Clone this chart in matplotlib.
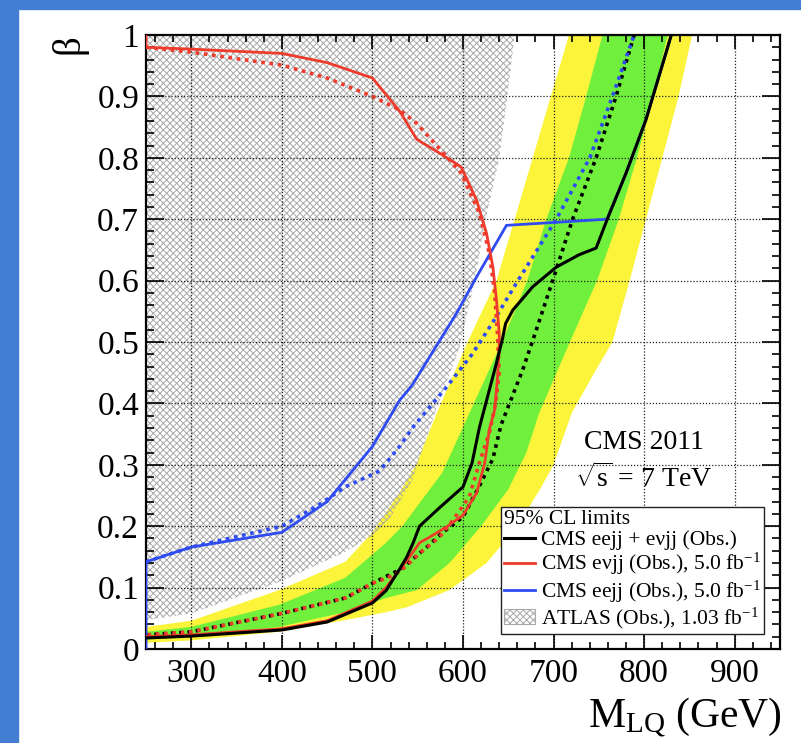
import matplotlib
matplotlib.use("Agg")
import matplotlib.pyplot as plt
import matplotlib.patches as mpatches
from matplotlib.ticker import MultipleLocator, FixedLocator, FixedFormatter

plt.rcParams['font.family'] = ['Liberation Serif', 'DejaVu Serif']
plt.rcParams['mathtext.fontset'] = 'custom'
plt.rcParams['mathtext.rm'] = 'Liberation Serif'
plt.rcParams['mathtext.it'] = 'Liberation Serif:italic'
plt.rcParams['hatch.linewidth'] = 0.7

# ---- data (M_LQ in GeV, beta) ----
# ATLAS excluded region boundary
atlas_x = [250, 300, 397, 470, 500, 520, 544, 569, 596, 613, 625, 640, 649, 657]
atlas_y = [0.047, 0.058, 0.109, 0.158, 0.185, 0.215, 0.275, 0.384, 0.49, 0.60, 0.70, 0.80, 0.90, 1.0]

# +-2 sigma band (combined expected)
ylw_left_x = [250, 300, 397, 470, 500, 530, 548, 571, 605, 637, 657, 677, 697, 717]
ylw_left_y = [0.036, 0.046, 0.096, 0.142, 0.19, 0.255, 0.30, 0.384, 0.5, 0.6, 0.7, 0.8, 0.9, 1.0]
ylw_right_x = [250, 300, 397, 470, 515, 538, 585, 626, 660, 685, 700, 720, 745, 765, 784, 802, 820, 838, 853]
ylw_right_y = [0.010, 0.014, 0.028, 0.047, 0.060, 0.068, 0.096, 0.14, 0.2, 0.26, 0.3, 0.384, 0.45, 0.5, 0.6, 0.7, 0.8, 0.9, 1.0]

# +-1 sigma band
grn_left_x = [250, 300, 397, 470, 515, 533, 577, 607, 643, 671, 692, 717, 736, 754]
grn_left_y = [0.028, 0.036, 0.072, 0.116, 0.173, 0.2, 0.287, 0.384, 0.5, 0.6, 0.7, 0.8, 0.9, 1.0]
grn_right_x = [250, 300, 397, 470, 515, 549, 585, 620, 650, 670, 684, 718, 748, 772, 792, 810, 826]
grn_right_y = [0.015, 0.020, 0.036, 0.060, 0.083, 0.096, 0.14, 0.2, 0.26, 0.32, 0.384, 0.5, 0.6, 0.7, 0.8, 0.9, 1.0]

# combined eejj + evjj
comb_obs_x = [250, 300, 400, 450, 500, 515, 530, 538, 545, 552, 574, 600, 610, 618, 637, 644, 647, 655, 677, 703, 728, 747, 759, 780, 802, 830]
comb_obs_y = [0.018, 0.021, 0.031, 0.044, 0.075, 0.095, 0.13, 0.15, 0.173, 0.2, 0.23, 0.264, 0.303, 0.36, 0.466, 0.508, 0.53, 0.552, 0.59, 0.622, 0.642, 0.653, 0.699, 0.775, 0.862, 1.0]
comb_exp_x = [250, 300, 400, 470, 500, 515, 530, 541, 560, 577, 600, 618, 633, 642, 666, 681, 699, 721, 747, 769, 789]
comb_exp_y = [0.023, 0.028, 0.058, 0.083, 0.107, 0.118, 0.129, 0.142, 0.166, 0.189, 0.215, 0.265, 0.31, 0.365, 0.455, 0.52, 0.60, 0.70, 0.80, 0.90, 1.0]

# evjj
enu_obs_x = [250, 250, 300, 400, 450, 500, 530, 549, 577, 598, 615, 626, 633, 637, 640, 640, 638, 635, 629, 624, 615, 600, 582, 563, 552, 541, 530, 515, 500, 450, 400, 300, 250]
enu_obs_y = [1.0, 0.98, 0.977, 0.97, 0.955, 0.93, 0.876, 0.83, 0.805, 0.785, 0.731, 0.677, 0.622, 0.568, 0.514, 0.49, 0.44, 0.39, 0.357, 0.303, 0.254, 0.218, 0.199, 0.182, 0.173, 0.15, 0.129, 0.1, 0.078, 0.046, 0.033, 0.023, 0.02]
enu_exp_x = [250, 300, 400, 450, 500, 530, 549, 577, 598, 618, 629, 635, 638, 640, 636, 630, 618, 607, 589, 574, 552, 541, 530, 515, 500, 470, 400, 300, 250]
enu_exp_y = [0.98, 0.972, 0.951, 0.93, 0.9, 0.878, 0.856, 0.81, 0.775, 0.71, 0.645, 0.58, 0.514, 0.45, 0.40, 0.357, 0.303, 0.248, 0.21, 0.182, 0.156, 0.14, 0.126, 0.115, 0.107, 0.083, 0.058, 0.028, 0.023]

# eejj
ee_obs_x = [250, 250, 300, 400, 450, 500, 530, 544, 593, 615, 648, 759, 780, 802, 830]
ee_obs_y = [0.0, 0.142, 0.166, 0.19, 0.24, 0.33, 0.405, 0.43, 0.547, 0.606, 0.69, 0.70, 0.775, 0.862, 1.0]
ee_exp_x = [250, 300, 400, 441, 470, 508, 530, 544, 582, 610, 632, 659, 703, 740, 765, 789]
ee_exp_y = [0.142, 0.166, 0.2, 0.235, 0.264, 0.29, 0.33, 0.36, 0.427, 0.48, 0.53, 0.596, 0.70, 0.80, 0.90, 1.0]

x_ticks = [300, 400, 500, 600, 700, 800, 900]
y_ticks = [0, 0.1, 0.2, 0.3, 0.4, 0.5, 0.6, 0.7, 0.8, 0.9, 1.0]
y_labels = ['0', '0.1', '0.2', '0.3', '0.4', '0.5', '0.6', '0.7', '0.8', '0.9', '1']

RED = '#ee3b2c'
BLUE = '#2f4cf2'
GREEN = '#70f03c'
YELLOW = '#fbf43a'
HATCH = '#a8a8a8'
dots = (0, (1, 1.3))

fig = plt.figure(figsize=(8.01, 7.43), dpi=100)
fig.patches.append(mpatches.Rectangle((0, 0), 18 / 801, 1, transform=fig.transFigure,
                                      color='#437ed3', zorder=-5))
fig.patches.append(mpatches.Rectangle((0, 1 - 9 / 743), 1, 9 / 743, transform=fig.transFigure,
                                      color='#437ed3', zorder=-5))

ax = fig.add_axes([146 / 801, 1 - 649 / 743, 634 / 801, 614 / 743])

# bands
ax.fill(ylw_left_x + ylw_right_x[::-1], ylw_left_y + ylw_right_y[::-1],
        color=YELLOW, lw=0, zorder=1)
ax.fill(grn_left_x + grn_right_x[::-1], grn_left_y + grn_right_y[::-1],
        color=GREEN, lw=0, zorder=1.1)

# ATLAS hatched region
ax.fill(atlas_x + [250], atlas_y + [1.0], facecolor='none', edgecolor=HATCH,
        hatch='xxxxx', lw=0, zorder=1.5)

# limit curves
ax.plot(comb_exp_x, comb_exp_y, color='black', lw=2.6, ls=dots, zorder=3)
ax.plot(ee_exp_x, ee_exp_y, color=BLUE, lw=2.6, ls=dots, zorder=3)
ax.plot(enu_exp_x, enu_exp_y, color=RED, lw=2.6, ls=dots, zorder=3)
l_ee, = ax.plot(ee_obs_x, ee_obs_y, color=BLUE, lw=2.0, zorder=3.1)
l_enu, = ax.plot(enu_obs_x, enu_obs_y, color=RED, lw=2.0, zorder=3.2)
l_comb, = ax.plot(comb_obs_x, comb_obs_y, color='black', lw=2.2, zorder=3.3)

ax.set_xlim(250, 950)
ax.set_ylim(0, 1)

ax.xaxis.set_major_locator(FixedLocator(x_ticks))
ax.xaxis.set_minor_locator(MultipleLocator(20))
ax.yaxis.set_major_locator(FixedLocator(y_ticks))
ax.yaxis.set_major_formatter(FixedFormatter(y_labels))
ax.yaxis.set_minor_locator(MultipleLocator(0.02))

ax.tick_params(which='both', direction='in', top=True, right=True, width=1.2, labelsize=24)
ax.tick_params(axis='x', which='major', length=10, pad=7)
ax.tick_params(axis='x', which='minor', length=5)
ax.tick_params(axis='y', which='major', length=13, pad=5)
ax.tick_params(axis='y', which='minor', length=6)
for s in ax.spines.values():
    s.set_linewidth(1.6)

ax.set_axisbelow(False)
ax.grid(True, which='major', color='#222222', ls=(0, (1, 1.5)), lw=0.9, zorder=2.5)

ax.text(800, 0.337, 'CMS 2011', fontsize=20, ha='center', va='center', zorder=4)
ax.text(800, 0.279, r'$\sqrt{\mathrm{s}}$ = 7 TeV', fontsize=20, ha='center', va='center', zorder=4)

fig.text(69 / 801, 1 - 44 / 743, 'β', fontsize=28, rotation=90, ha='center', va='center')
fig.text(782 / 801, 1 - 717 / 743, r'M$_{\mathregular{LQ}}$ (GeV)', fontsize=30,
         ha='right', va='center')

atlas_handle = mpatches.Patch(facecolor='white', edgecolor=HATCH, hatch='xxxxx', lw=0.8)
leg = ax.legend([l_comb, l_enu, l_ee, atlas_handle],
                ['CMS eejj + eνjj (Obs.)',
                 r'CMS eνjj (Obs.), 5.0 fb$^{-1}$',
                 r'CMS eejj (Obs.), 5.0 fb$^{-1}$',
                 r'ATLAS (Obs.), 1.03 fb$^{-1}$'],
                title='95% CL limits', alignment='left',
                loc='lower left', bbox_to_anchor=(0.56, 0.024),
                fontsize=15.5, title_fontsize=15.5, frameon=True, fancybox=False,
                framealpha=1, edgecolor='#222222', handlelength=1.45,
                handletextpad=0.25, labelspacing=0.05, borderpad=0.15,
                borderaxespad=0)
leg.get_frame().set_linewidth(1.0)
leg.set_zorder(5)

fig.savefig('out.png', dpi=100)
